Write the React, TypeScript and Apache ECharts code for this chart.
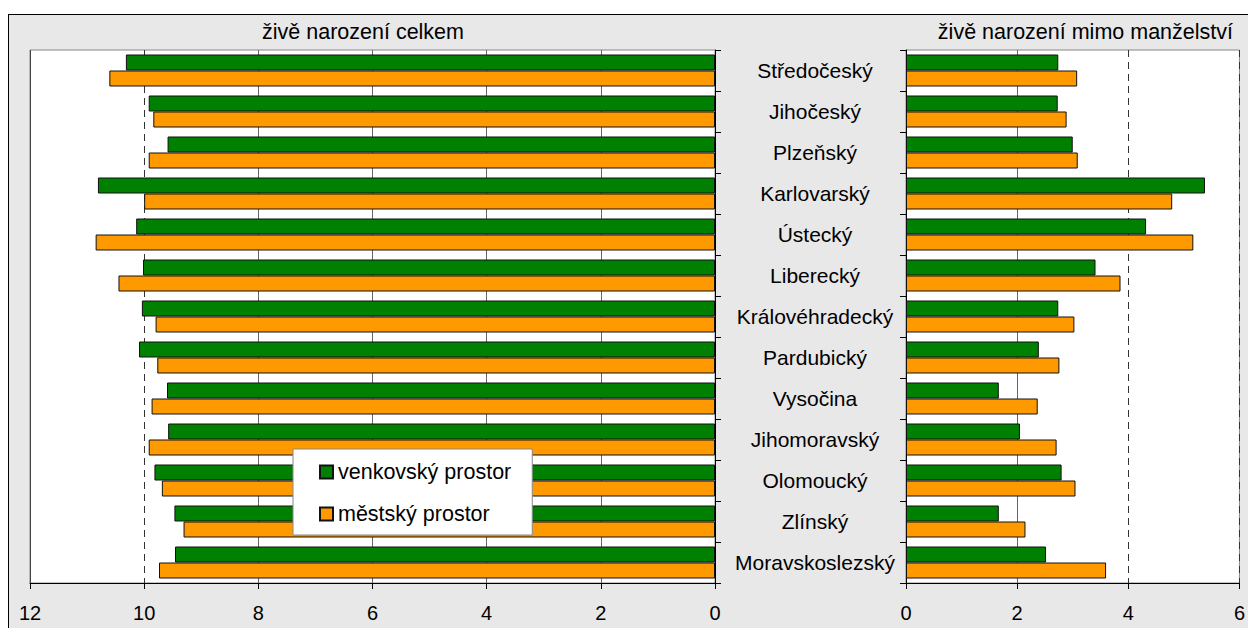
import React, { useEffect, useRef } from "react";
import * as echarts from "echarts";

const categories = [
  "Středočeský",
  "Jihočeský",
  "Plzeňský",
  "Karlovarský",
  "Ústecký",
  "Liberecký",
  "Královéhradecký",
  "Pardubický",
  "Vysočina",
  "Jihomoravský",
  "Olomoucký",
  "Zlínský",
  "Moravskoslezský",
];

const seriesNames = ["venkovský prostor", "městský prostor"];
const titles = ["živě narození celkem", "živě narození mimo manželství"];

// živě narození celkem
const ruralTotal = [10.32, 9.92, 9.59, 10.81, 10.14, 10.02, 10.04, 10.09, 9.6, 9.58, 9.82, 9.47, 9.46];
const urbanTotal = [10.61, 9.84, 9.92, 10.0, 10.85, 10.45, 9.8, 9.77, 9.87, 9.92, 9.69, 9.31, 9.74];

// živě narození mimo manželství
const ruralOut = [2.74, 2.73, 3.0, 5.38, 4.32, 3.41, 2.74, 2.39, 1.67, 2.05, 2.8, 1.67, 2.52];
const urbanOut = [3.08, 2.89, 3.09, 4.79, 5.17, 3.86, 3.03, 2.76, 2.37, 2.71, 3.05, 2.15, 3.6];

const FONT = "'Liberation Sans', Arial, sans-serif";
const GREEN = "#008000";
const ORANGE = "#ff9900";
const NONE = "rgba(0,0,0,0)";
const GRID = "#666";
const DASH = "#333";

export default function App() {
  const ref = useRef<HTMLDivElement>(null);

  useEffect(() => {
    if (!ref.current) return;
    const chart = echarts.init(ref.current, undefined, { renderer: "svg" });

    const barStyle = (color: string) => ({
      color,
      borderColor: "#111",
      borderWidth: 1,
    });

    const valueAxis = (gridIndex: number, max: number, inverse: boolean, splitColors: string[]) => ({
      type: "value",
      gridIndex,
      min: 0,
      max,
      interval: 2,
      inverse,
      position: "bottom",
      axisLine: { show: true, onZero: false, lineStyle: { color: "#000", width: 1 } },
      axisTick: { show: true, length: 6, lineStyle: { color: "#000" } },
      axisLabel: { fontSize: 20, color: "#000", fontFamily: FONT, margin: 20 },
      splitLine: { show: true, lineStyle: { color: splitColors, width: 1, type: "solid" } },
    });

    const dashAxis = (gridIndex: number, max: number, inverse: boolean, splitColors: string[]) => ({
      type: "value",
      gridIndex,
      min: 0,
      max,
      interval: 2,
      inverse,
      position: "top",
      axisLine: { show: false },
      axisTick: { show: false },
      axisLabel: { show: false },
      splitLine: { show: true, lineStyle: { color: splitColors, width: 1, type: [7, 5] } },
    });

    const option: any = {
      animation: false,
      textStyle: { fontFamily: FONT },
      grid: [
        { left: 30, top: 50, width: 685, height: 533, show: true, backgroundColor: "#fff", borderColor: "#888", borderWidth: 1 },
        { left: 906, top: 50, width: 335, height: 533, show: true, backgroundColor: "#fff", borderColor: "#888", borderWidth: 1 },
      ],
      xAxis: [
        // ticks in value order: 0,2,4,6,8,10,12
        valueAxis(0, 12, true, [NONE, GRID, GRID, GRID, GRID, NONE, "#444"]),
        // ticks: 0,2,4,6
        valueAxis(1, 6, false, [NONE, GRID, NONE, NONE]),
        dashAxis(0, 12, true, [NONE, NONE, NONE, NONE, NONE, DASH, NONE]),
        dashAxis(1, 6, false, [NONE, NONE, DASH, DASH]),
      ],
      yAxis: [
        {
          type: "category",
          gridIndex: 0,
          data: categories,
          inverse: true,
          position: "right",
          axisLine: { show: true, lineStyle: { color: "#000" } },
          axisTick: { show: true, length: 6, lineStyle: { color: "#000" } },
          axisLabel: { show: false },
        },
        {
          type: "category",
          gridIndex: 1,
          data: categories,
          inverse: true,
          position: "left",
          axisLine: { show: true, lineStyle: { color: "#000" } },
          axisTick: { show: true, length: 6, lineStyle: { color: "#000" } },
          axisLabel: { fontSize: 21, color: "#000", fontFamily: FONT, align: "center", margin: 91 },
        },
      ],
      legend: {
        data: seriesNames,
        orient: "vertical",
        left: 293,
        top: 449,
        padding: [12, 21, 10, 26],
        itemGap: 20,
        itemWidth: 13,
        itemHeight: 13,
        backgroundColor: "#fff",
        borderColor: "#888",
        borderWidth: 1,
        z: 10,
        textStyle: { fontSize: 21.5, color: "#000", fontFamily: FONT },
        icon: "rect",
      },
      series: [
        { name: seriesNames[0], type: "bar", xAxisIndex: 0, yAxisIndex: 0, data: ruralTotal, barWidth: 16, barGap: "0%", itemStyle: barStyle(GREEN) },
        { name: seriesNames[1], type: "bar", xAxisIndex: 0, yAxisIndex: 0, data: urbanTotal, barWidth: 16, barGap: "0%", itemStyle: barStyle(ORANGE) },
        { name: seriesNames[0], type: "bar", xAxisIndex: 1, yAxisIndex: 1, data: ruralOut, barWidth: 16, barGap: "0%", itemStyle: barStyle(GREEN) },
        { name: seriesNames[1], type: "bar", xAxisIndex: 1, yAxisIndex: 1, data: urbanOut, barWidth: 16, barGap: "0%", itemStyle: barStyle(ORANGE) },
      ],
      graphic: [
        {
          type: "text",
          x: 363,
          y: 32,
          style: { text: titles[0], fontSize: 21.5, fontFamily: FONT, fill: "#000", align: "center", verticalAlign: "middle" },
        },
        {
          type: "text",
          x: 1233,
          y: 32,
          style: { text: titles[1], fontSize: 21.5, fontFamily: FONT, fill: "#000", align: "right", verticalAlign: "middle" },
        },
      ],
    };

    chart.setOption(option);
    return () => chart.dispose();
  }, []);

  return (
    <div style={{ position: "fixed", left: 0, top: 0, width: 1248, height: 628, overflow: "hidden", background: "#fff" }}>
      <div
        style={{
          position: "absolute",
          left: 8,
          top: 14,
          width: 1300,
          height: 700,
          background: "#e8e8e8",
          border: "1px solid #000",
        }}
      />
      <div ref={ref} style={{ position: "absolute", left: 0, top: 0, width: 1248, height: 628 }} />
    </div>
  );
}
